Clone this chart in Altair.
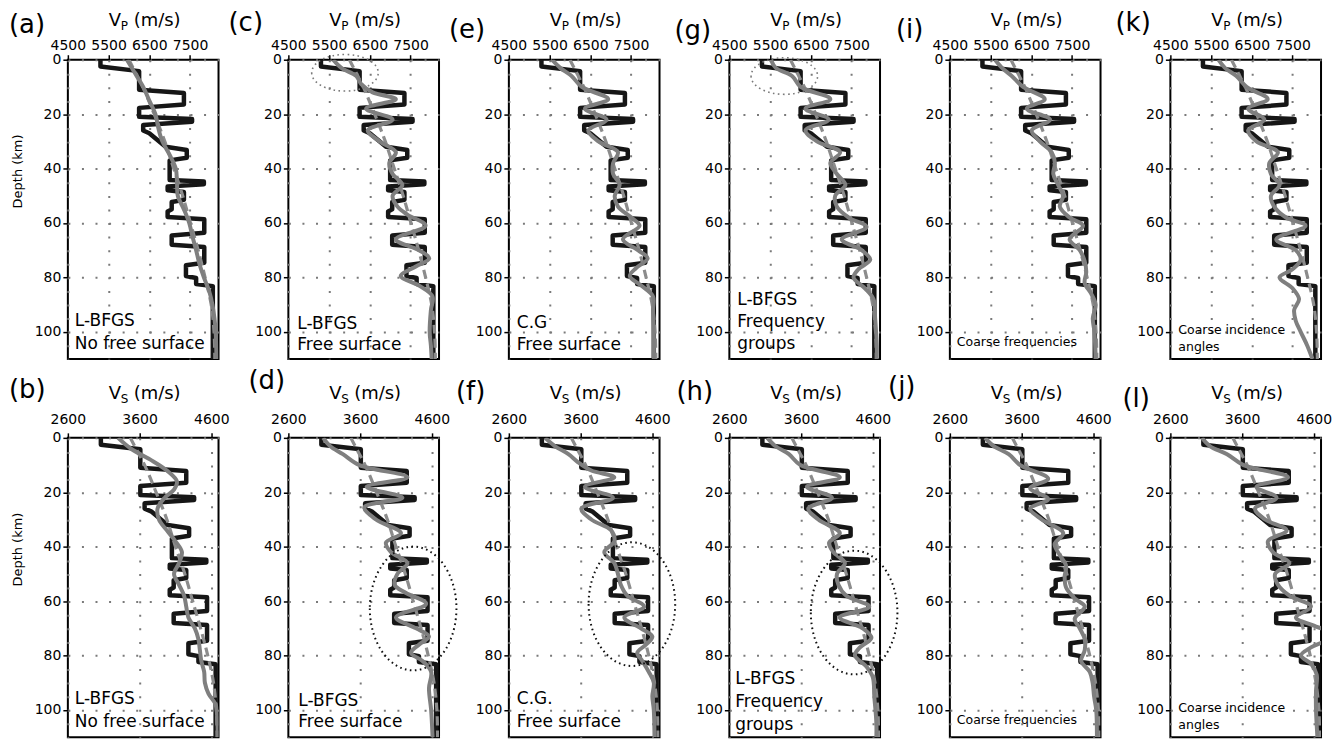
import altair as alt
import pandas as pd

FONT = "DejaVu Sans"

# ---------------- data: true model (black) ----------------
TRUE_DEPTH = [0, 2.5, 4.2, 11, 12.2, 16.5, 17.7, 21, 21.8, 22.8, 24, 26, 27, 32, 33.2, 36,
              37, 44.2, 44.8, 45.8, 46.6, 48, 48.6, 51.5, 52.3, 55, 55.8, 57.8, 58.6, 63.6,
              64.6, 68, 68.8, 74.6, 75.5, 79.5, 80.2, 82.4, 83.2, 110]
VP_TRUE = [5300, 5300, 6250, 6250, 7350, 7350, 6250, 6250, 7550, 7550, 6350, 6350, 6500, 6900,
           7420, 7420, 7000, 7000, 7840, 7840, 6950, 6950, 7350, 7350, 7050, 7050, 6950, 6950,
           7850, 7850, 7050, 7050, 7850, 7850, 7400, 7400, 7650, 7650, 8060, 8060]
VS_TRUE = [3060, 3060, 3610, 3610, 4250, 4250, 3610, 3610, 4360, 4360, 3670, 3670, 3760, 3990,
           4290, 4290, 4050, 4050, 4530, 4530, 4020, 4020, 4250, 4250, 4075, 4075, 4020, 4020,
           4540, 4540, 4075, 4075, 4540, 4540, 4280, 4280, 4420, 4420, 4660, 4660]

# ---------------- data: initial model (grey dashed) ----------------
INIT_DEPTH = [0, 5, 10, 20, 30, 40, 50, 60, 70, 80, 90, 100, 110]
VP_INIT = [6000, 6170, 6340, 6620, 6880, 7100, 7320, 7510, 7700, 7870, 8020, 8090, 8110]
VS_INIT = [3470, 3570, 3670, 3830, 3980, 4100, 4230, 4340, 4450, 4550, 4630, 4670, 4680]

# ---------------- data: inverted models (grey solid) ----------------
A_DEPTH = [0, 5, 10, 15, 20, 25, 30, 35, 40, 45, 50, 55, 60, 65, 70, 75, 80, 85, 90, 95, 100, 110]
A_VP = [5950, 6150, 6350, 6500, 6650, 6720, 6820, 7000, 7150, 7180, 7200, 7350, 7480, 7560,
        7650, 7730, 7840, 7970, 8050, 8100, 8130, 8150]

B_DEPTH = [0, 4, 8, 12, 16, 19, 22, 26, 30, 34, 38, 42, 46, 50, 54, 58, 62, 66, 70, 74, 78, 82,
           86, 90, 94, 98, 102, 110]
B_VS = [3300, 3480, 3750, 3980, 4120, 4080, 3950, 3850, 3870, 3980, 4100, 4190, 4150, 4080,
        4150, 4220, 4250, 4280, 4370, 4420, 4440, 4460, 4500, 4510, 4560, 4660, 4680, 4690]

C_DEPTH = [0, 3, 6, 9, 12, 14.5, 18, 22, 26, 30, 34, 38, 42, 46, 50, 54, 57, 61, 66, 70, 73, 76,
           79.5, 83, 87, 92, 100, 105, 110]
C_VP = [5600, 5800, 6170, 6290, 6570, 7140, 6410, 7060, 6450, 6740, 7140, 6980, 7060, 7300,
        7060, 7180, 7430, 7870, 7140, 7710, 7960, 7630, 7260, 7710, 8040, 8000, 7970, 8000, 8020]

D_DEPTH = [0, 3, 6, 10, 14.5, 18, 22, 25.5, 30, 35, 38.5, 42, 46, 50, 54, 57, 61, 66, 70, 73,
           76, 79, 82, 86, 92, 100, 110]
D_VS = [3085, 3180, 3360, 3590, 4260, 3690, 4190, 3660, 3820, 4170, 3960, 4030, 4260, 4120,
        4080, 4240, 4520, 4100, 4380, 4560, 4420, 4310, 4470, 4590, 4560, 4590, 4610]

E_DEPTH = [0, 3, 6, 10, 14.5, 18, 22, 26, 30, 34, 38, 42, 46, 50, 54, 58, 61, 66, 70, 73, 76.5,
           79.5, 83, 87, 92, 100, 110]
E_VP = [5560, 5760, 6040, 6290, 6940, 6370, 6900, 6450, 6700, 7180, 7060, 7060, 7220, 7100,
        7180, 7510, 7710, 7300, 7670, 7910, 7630, 7470, 7750, 8040, 8040, 8060, 8060]

F_DEPTH = [0, 3, 6, 9, 12, 14.5, 18, 22, 26, 30, 34, 38, 42, 46, 50, 54, 58, 62, 66, 70, 73, 76,
           79, 82, 86, 90, 95, 100, 110]
F_VS = [3105, 3240, 3430, 3565, 3750, 4070, 3660, 4050, 3610, 3750, 4025, 4070, 3930, 4070,
        4120, 4160, 4250, 4485, 4210, 4440, 4600, 4510, 4390, 4460, 4550, 4620, 4600, 4620, 4630]

G_DEPTH = [0, 3, 6, 10, 14.5, 18, 22, 26, 30, 34, 38, 42, 46, 50, 54, 58, 61.5, 66, 70, 73.5,
           77, 80, 84, 88, 95, 105, 110]
G_VP = [5520, 5640, 6040, 6250, 6980, 6370, 6940, 6370, 6650, 7220, 6980, 7140, 7350, 7100,
        7140, 7430, 7870, 7260, 7750, 7960, 7670, 7550, 7830, 8040, 8080, 8120, 8120]

H_DEPTH = [0, 3, 6, 10, 14.5, 18, 22, 26, 30, 35, 38.5, 42, 46, 50, 54, 58, 62, 66, 70, 73.5,
           77, 80, 84, 88, 95, 105, 110]
H_VS = [3130, 3240, 3430, 3590, 4140, 3680, 4030, 3700, 3840, 4140, 3990, 4050, 4210, 4100,
        4120, 4230, 4550, 4140, 4460, 4580, 4420, 4350, 4510, 4600, 4620, 4650, 4650]

I_DEPTH = [0, 3, 6, 10, 14.5, 18, 22, 26, 30, 34, 38, 42, 46, 50, 54, 58, 61, 66, 70, 74, 78,
           82, 86, 90, 95, 100, 110]
I_VP = [5610, 5780, 6020, 6300, 6830, 6390, 6960, 6510, 6710, 7000, 7080, 7040, 7160, 7280,
        7200, 7440, 7770, 7440, 7690, 7810, 7850, 7810, 7970, 8080, 8010, 8050, 8080]

J_DEPTH = [0, 3, 6, 10, 15, 18.5, 22.5, 26, 30, 35, 39, 43, 47, 51, 55, 59, 62, 66.5, 70, 74,
           78, 82, 86, 90, 95, 100, 110]
J_VS = [3090, 3210, 3420, 3580, 3970, 3720, 3970, 3720, 3880, 4180, 4060, 4130, 4220, 4200,
        4220, 4340, 4480, 4340, 4410, 4480, 4480, 4430, 4550, 4590, 4610, 4640, 4650]

K_DEPTH = [0, 3, 6, 10, 14.5, 18, 22, 26, 30, 34, 38, 42, 46, 50, 54, 58, 61, 66, 70, 73.5, 77,
           80, 84, 88, 92, 96, 100, 105, 110]
K_VP = [5680, 5840, 6120, 6370, 6890, 6410, 6810, 6410, 6610, 7140, 6930, 6970, 7180, 6970,
        7050, 7340, 7820, 7100, 7580, 7700, 7500, 7180, 7500, 7660, 7540, 7580, 7700, 7860, 7990]

L_DEPTH = [0, 3, 6, 10, 14.5, 18, 22, 26, 30, 34, 38, 42, 46, 50, 54, 58, 62, 66, 69, 71.5, 74,
           77, 80, 83, 87, 93, 100, 110]
L_VS = [3040, 3150, 3390, 3620, 4240, 3800, 4080, 3780, 3920, 4220, 3960, 4030, 4260, 4060,
        4100, 4260, 4560, 4350, 4600, 4800, 4780, 4560, 4420, 4560, 4640, 4630, 4630, 4650]

DEPTH_TICKS = [0, 20, 40, 60, 80, 100]
VP_TICKS = [4500, 5500, 6500, 7500]
VS_TICKS = [2600, 3600, 4600]

# ---------------- layout / styling (not data) ----------------
W, H = 151, 300
BIG, SMALL = 17, 12.5
GREY_ELL = "M-1,0A1,0.55,0,1,0,1,0A1,0.55,0,1,0,-1,0Z"
BLACK_ELL = "M-0.7,0A0.7,1,0,1,0,0.7,0A0.7,1,0,1,0,-0.7,0Z"

PANELS = [
    dict(letter="(a)", kind="P", depth=A_DEPTH, vel=A_VP, lines=["L-BFGS", "No free surface"],
         fs=BIG, lh=23, tx=7, ty=267, lx=-59, ly=-27, ylab=True, ell=None),
    dict(letter="(c)", kind="P", depth=C_DEPTH, vel=C_VP, lines=["L-BFGS", "Free surface"],
         fs=BIG, lh=21, tx=9, ty=270, lx=-60, ly=-29, ylab=False,
         ell=dict(v=5890, d=4.8, shape=GREY_ELL, size=4450, color="#7a7a7a", w=1.6)),
    dict(letter="(e)", kind="P", depth=E_DEPTH, vel=E_VP, lines=["C.G", "Free surface"],
         fs=BIG, lh=22, tx=8, ty=269, lx=-60, ly=-22, ylab=False, ell=None),
    dict(letter="(g)", kind="P", depth=G_DEPTH, vel=G_VP, lines=["L-BFGS", "Frequency", "groups"],
         fs=BIG, lh=22, tx=8, ty=246, lx=-55, ly=-21, ylab=False,
         ell=dict(v=5850, d=6.0, shape=GREY_ELL, size=4450, color="#7a7a7a", w=1.6)),
    dict(letter="(i)", kind="P", depth=I_DEPTH, vel=I_VP, lines=["Coarse frequencies"],
         fs=SMALL, lh=16, tx=7, ty=287, lx=-54, ly=-22, ylab=False, ell=None),
    dict(letter="(k)", kind="P", depth=K_DEPTH, vel=K_VP, lines=["Coarse incidence", "angles"],
         fs=SMALL, lh=16.5, tx=8, ty=275, lx=-55, ly=-29, ylab=False, ell=None),
    dict(letter="(b)", kind="S", depth=B_DEPTH, vel=B_VS, lines=["L-BFGS", "No free surface"],
         fs=BIG, lh=23, tx=7, ty=267, lx=-59, ly=-40, ylab=True, ell=None),
    dict(letter="(d)", kind="S", depth=D_DEPTH, vel=D_VS, lines=["L-BFGS", "Free surface"],
         fs=BIG, lh=21, tx=10, ty=269, lx=-40, ly=-49, ylab=False,
         ell=dict(v=4339, d=62.7, shape=BLACK_ELL, size=15376, color="#111111", w=2)),
    dict(letter="(f)", kind="S", depth=F_DEPTH, vel=F_VS, lines=["C.G.", "Free surface"],
         fs=BIG, lh=23, tx=8, ty=267, lx=-53, ly=-38, ylab=False,
         ell=dict(v=4315, d=61.1, shape=BLACK_ELL, size=15376, color="#111111", w=2)),
    dict(letter="(h)", kind="S", depth=H_DEPTH, vel=H_VS, lines=["L-BFGS", "Frequency", "groups"],
         fs=BIG, lh=23, tx=6, ty=247, lx=-53, ly=-38, ylab=False,
         ell=dict(v=4339, d=64.2, shape=BLACK_ELL, size=15376, color="#111111", w=2)),
    dict(letter="(j)", kind="S", depth=J_DEPTH, vel=J_VS, lines=["Coarse frequencies"],
         fs=SMALL, lh=16, tx=7, ty=287, lx=-62, ly=-43, ylab=False, ell=None),
    dict(letter="(l)", kind="S", depth=L_DEPTH, vel=L_VS, lines=["Coarse incidence", "angles"],
         fs=SMALL, lh=16.5, tx=8, ty=275, lx=-48, ly=-31, ylab=False, ell=None),
]

ONE = pd.DataFrame({"k": [0]})


def label(text, x, y, size, **kw):
    props = dict(align="left", baseline="alphabetic", fontSize=size, font=FONT, color="black")
    props.update(kw)
    return alt.Chart(ONE).mark_text(**props).encode(
        x=alt.value(x), y=alt.value(y), text=alt.value(text))


def make_panel(p):
    if p["kind"] == "P":
        dom, ticks, tv, iv, sub = [4500, 8200], VP_TICKS, VP_TRUE, VP_INIT, "P"
        pad, ty = 2, -34
    else:
        dom, ticks, tv, iv, sub = [2600, 4700], VS_TICKS, VS_TRUE, VS_INIT, "S"
        pad, ty = 6, -39
    xs = alt.Scale(domain=dom, nice=False, zero=False)
    ys = alt.Scale(domain=[0, 110], reverse=True, nice=False, zero=False)
    common = dict(title=None, grid=True, gridDash=[2, 11.6], gridColor="#7a7a7a", gridWidth=2,
                  domain=False, ticks=True, tickColor="black", tickWidth=1.5, tickSize=5,
                  labelFont=FONT, labelFontSize=14, labelColor="black", labelOverlap=False,
                  labelFlush=False, format="d")
    xax = alt.Axis(orient="top", values=ticks, labelPadding=pad, **common)
    yax = alt.Axis(orient="left", values=DEPTH_TICKS, labelPadding=2, **common)
    X = alt.X("v:Q", scale=xs, axis=xax)
    Y = alt.Y("d:Q", scale=ys, axis=yax)

    true_df = pd.DataFrame({"d": TRUE_DEPTH, "v": tv, "i": list(range(len(TRUE_DEPTH)))})
    init_df = pd.DataFrame({"d": INIT_DEPTH, "v": iv})
    inv_df = pd.DataFrame({"d": p["depth"], "v": p["vel"]})

    layers = [
        alt.Chart(true_df).mark_line(color="#161616", strokeWidth=4.5, clip=True,
                                     strokeJoin="round", strokeCap="round").encode(
            x=X, y=Y, order="i:Q"),
        alt.Chart(init_df).mark_line(color="#8c8c8c", strokeWidth=3.2, strokeDash=[9, 5],
                                     clip=True, interpolate="catmull-rom").encode(
            x=X, y=Y, order="d:Q"),
        alt.Chart(inv_df).mark_line(color="#7f7f7f", strokeWidth=4, clip=True,
                                    strokeJoin="round", interpolate="catmull-rom").encode(
            x=X, y=Y, order="d:Q"),
    ]
    e = p["ell"]
    if e:
        layers.append(
            alt.Chart(pd.DataFrame({"v": [e["v"]], "d": [e["d"]]})).mark_point(
                shape=e["shape"], size=e["size"], filled=False, opacity=1, color=e["color"],
                stroke=e["color"], strokeWidth=e["w"], strokeDash=[1.6, 3.4]).encode(x=X, y=Y))
    layers.append(label(p["lines"], p["tx"], p["ty"], p["fs"], lineHeight=p["lh"]))
    layers.append(label(p["letter"], p["lx"], p["ly"], 26))
    layers.append(label("V", 41, ty, 18))
    layers.append(label(sub, 53, ty + 4, 12))
    layers.append(label("(m/s)", 66, ty, 18))
    if p["ylab"]:
        layers.append(label("Depth (km)", -50, 112, 13, angle=270, align="center",
                            baseline="middle"))
    return alt.layer(*layers).properties(width=W, height=H)


charts = [make_panel(p) for p in PANELS]
chart = alt.concat(*charts, columns=6, spacing={"row": 79, "column": 70}, bounds="flush").properties(
    padding={"left": 0, "top": 0, "right": 0, "bottom": 0}
).configure(font=FONT).configure_view(stroke="black", strokeWidth=2)

chart.save("out.html", embed_options={"renderer": "svg", "actions": False})
